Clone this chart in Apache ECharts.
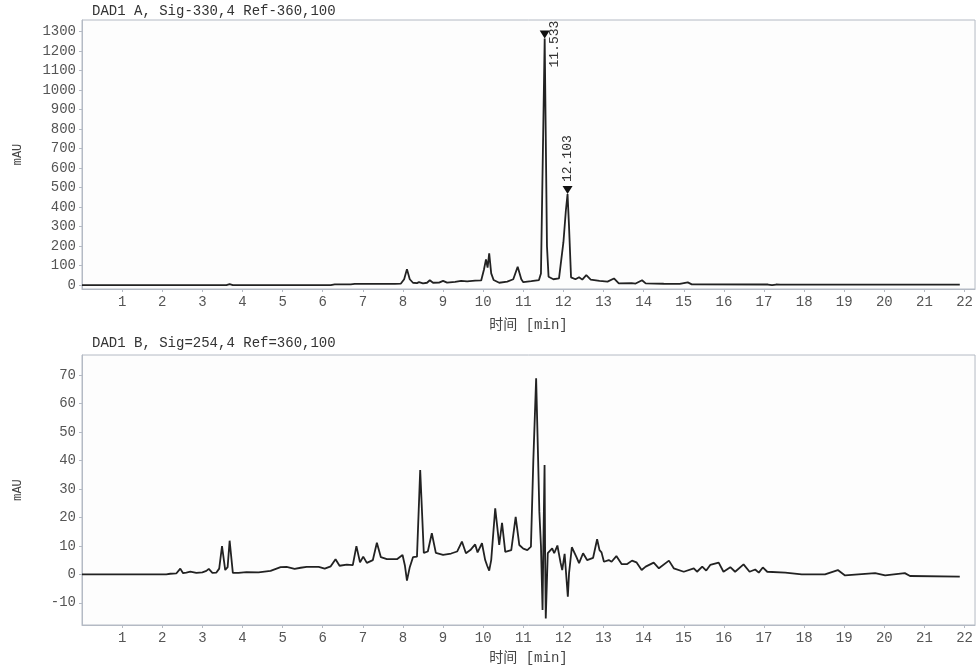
<!DOCTYPE html>
<html>
<head>
    <meta charset="utf-8">
    <title>DAD1 色谱图</title>
    <script type="text/javascript" src="https://cdn.jsdelivr.net/npm/echarts@6.0.0/dist/echarts.min.js"></script>
    <style>
        html, body { margin:0; padding:0; background:#fff; }
        #chart { width:976px; height:670px; }
    </style>
</head>
<body>
<div id="chart"></div>
<script type="text/javascript">
// 信号 A (330nm) 时间/响应
var timeA = [0, 3.6, 3.68, 3.76, 6.2, 6.3, 6.7, 6.8, 7.8, 7.95, 8.03, 8.1, 8.17, 8.25, 8.35, 8.4, 8.5, 8.6, 8.67, 8.75,
    8.9, 9.0, 9.1, 9.3, 9.45, 9.6, 9.8, 9.95, 10.02, 10.07, 10.11, 10.15, 10.2, 10.26, 10.4, 10.6, 10.75, 10.86, 10.95, 11.0,
    11.2, 11.39, 11.44, 11.533, 11.59, 11.63, 11.75, 11.89, 12.0, 12.06, 12.103, 12.14, 12.19, 12.3, 12.39, 12.47, 12.57, 12.68, 12.9, 13.1,
    13.26, 13.38, 13.7, 13.8, 13.96, 14.05, 14.5, 14.9, 15.1, 15.2, 17.1, 17.2, 17.3, 17.4, 21.88];
var sigA = [0, 0, 5, 0, 0, 4, 4, 6, 6, 8, 30, 82, 30, 12, 10, 15, 9, 12, 25, 12,
    13, 22, 13, 17, 22, 19, 23, 24, 80, 132, 90, 163, 60, 26, 12, 18, 30, 94, 30, 15,
    20, 26, 60, 1265, 200, 43, 30, 34, 220, 380, 467, 300, 40, 30, 40, 28, 51, 28, 22, 18,
    34, 9, 10, 8, 25, 9, 7, 6, 14, 4, 3, 0, 3, 2, 2];

// 信号 B (254nm)
var timeB = [0, 2.1, 2.2, 2.35, 2.45, 2.52, 2.6, 2.7, 2.85, 3.0, 3.1, 3.16, 3.25, 3.35, 3.42, 3.49, 3.57, 3.63, 3.68, 3.76,
    3.9, 4.1, 4.4, 4.7, 4.95, 5.1, 5.3, 5.45, 5.6, 5.9, 6.05, 6.2, 6.32, 6.42, 6.6, 6.75, 6.84, 6.93, 7.01, 7.1,
    7.25, 7.35, 7.45, 7.6, 7.85, 7.99, 8.05, 8.1, 8.17, 8.25, 8.35, 8.43, 8.52, 8.62, 8.72, 8.82, 9.0, 9.2, 9.35, 9.47,
    9.57, 9.68, 9.8, 9.86, 9.97, 10.05, 10.1, 10.15, 10.2, 10.3, 10.4, 10.47, 10.55, 10.7, 10.81, 10.9, 11.0, 11.1, 11.19, 11.25,
    11.32, 11.37, 11.4, 11.44, 11.48, 11.5, 11.53, 11.545, 11.56, 11.61, 11.72, 11.77, 11.85, 11.93, 11.97, 12.03, 12.11, 12.14, 12.21, 12.32,
    12.39, 12.49, 12.59, 12.74, 12.84, 12.9, 12.95, 13.01, 13.13, 13.2, 13.32, 13.45, 13.59, 13.71, 13.82, 13.95, 14.05, 14.25, 14.38, 14.63,
    14.75, 15.0, 15.25, 15.33, 15.46, 15.56, 15.66, 15.87, 15.99, 16.16, 16.28, 16.49, 16.64, 16.78, 16.87, 16.97, 17.08, 17.53, 17.94, 18.52,
    18.84, 19.02, 19.35, 19.77, 20.02, 20.51, 20.64, 21.88];
var sigB = [0, 0, 0.2, 0.3, 2.0, 0.4, 0.6, 0.9, 0.5, 0.7, 1.2, 1.9, 0.5, 0.6, 2.0, 9.9, 1.5, 2.5, 11.8, 0.5,
    0.5, 0.8, 0.7, 1.2, 2.5, 2.6, 1.9, 2.3, 2.6, 2.6, 2.0, 2.8, 5.3, 3.0, 3.4, 3.2, 9.9, 4.2, 6.2, 4.0,
    5.0, 11.1, 6.0, 5.3, 5.3, 6.8, 3.0, -2.2, 2.5, 6.0, 6.2, 36.6, 7.5, 8.0, 14.4, 7.5, 6.8, 7.3, 8.0, 11.5,
    7.4, 8.5, 10.5, 7.7, 10.9, 5.0, 3.0, 1.3, 5.0, 23.2, 10.3, 18.1, 7.9, 8.5, 20.2, 10.3, 9.0, 8.5, 9.7, 40,
    68.8, 40, 22, 10, -12.5, 10, 38.4, 5, -15.5, 7.4, 9.1, 7.4, 10.1, 4.0, 1.5, 7.2, -7.9, 0.3, 9.5, 6.2,
    3.9, 7.4, 5.0, 5.8, 12.3, 8.5, 7.7, 4.4, 5.0, 4.4, 6.4, 3.6, 3.6, 4.8, 4.2, 1.5, 2.7, 4.1, 2.1, 4.8,
    2.1, 0.9, 2.1, 0.9, 2.7, 1.3, 3.3, 4.1, 0.9, 2.5, 0.9, 3.5, 0.9, 1.7, 0.6, 2.4, 0.9, 0.6, 0, 0,
    1.5, -0.4, 0, 0.4, -0.4, 0.4, -0.6, -0.8];

// 积分峰 (信号 A)
var peakTimes = [11.533, 12.103];
var peakHeights = [1265, 467];

// 刻度
var xTicks = [1, 2, 3, 4, 5, 6, 7, 8, 9, 10, 11, 12, 13, 14, 15, 16, 17, 18, 19, 20, 21, 22];
var yTicksA = [0, 100, 200, 300, 400, 500, 600, 700, 800, 900, 1000, 1100, 1200, 1300];
var yTicksB = [-10, 0, 10, 20, 30, 40, 50, 60, 70];

var titles = ['DAD1 A, Sig-330,4 Ref-360,100', 'DAD1 B, Sig=254,4 Ref=360,100'];

var FONT = '"Liberation Mono", "Noto Sans CJK SC", monospace';
var AXIS_COLOR = '#b4bac4';

function pairs(ts, vs) {
    var out = [];
    for (var i = 0; i < ts.length; i++) out.push([ts[i], vs[i]]);
    return out;
}

function plain(v) { return String(v); }

function xAxisCfg(gridIndex, gap) {
    return {
        type: 'value', gridIndex: gridIndex, min: 0, max: 22.26,
        name: '时间 [min]', nameLocation: 'middle', nameGap: gap,
        nameTextStyle: { fontFamily: FONT, fontSize: 14, color: '#444' },
        axisLine: { onZero: false, lineStyle: { color: AXIS_COLOR } },
        axisTick: { show: true, length: 3, lineStyle: { color: AXIS_COLOR }, customValues: xTicks },
        axisLabel: { fontFamily: FONT, fontSize: 14, color: '#555', margin: 6, customValues: xTicks, formatter: plain },
        splitLine: { show: false }
    };
}

function yAxisCfg(gridIndex, min, max, ticks) {
    return {
        type: 'value', gridIndex: gridIndex, min: min, max: max,
        name: 'mAU', nameLocation: 'middle', nameGap: 58, nameRotate: 90,
        nameTextStyle: { fontFamily: FONT, fontSize: 12, color: '#444' },
        axisLine: { show: true, onZero: false, lineStyle: { color: AXIS_COLOR } },
        axisTick: { show: true, length: 3, lineStyle: { color: AXIS_COLOR }, customValues: ticks },
        axisLabel: { fontFamily: FONT, fontSize: 14, color: '#555', margin: 6, customValues: ticks, formatter: plain },
        splitLine: { show: false }
    };
}

var peakMarks = peakTimes.map(function (t, i) {
    var lbl = {
        show: true, formatter: t.toFixed(3), rotate: 90,
        fontFamily: FONT, fontSize: 13, color: '#333',
        position: 'top', align: 'left', verticalAlign: 'middle', distance: 4
    };
    // 第一个峰靠近顶部, 标签移到峰的右侧
    if (i === 0) lbl.offset = [-41, 10];
    return { coord: [t, peakHeights[i]], label: lbl };
});

var myChart = echarts.init(document.getElementById('chart'), null, { renderer: 'canvas' });
myChart.setOption({
    animation: false,
    backgroundColor: '#fff',
    title: [
        { text: titles[0], left: 87, top: -1, textStyle: { fontFamily: FONT, fontSize: 14, fontWeight: 'normal', color: '#333' } },
        { text: titles[1], left: 87, top: 331, textStyle: { fontFamily: FONT, fontSize: 14, fontWeight: 'normal', color: '#333' } }
    ],
    grid: [
        { left: 82, top: 20, width: 895, height: 269, show: true, borderColor: AXIS_COLOR, borderWidth: 1, backgroundColor: '#fdfdfd' },
        { left: 82, top: 355, width: 895, height: 270, show: true, borderColor: AXIS_COLOR, borderWidth: 1, backgroundColor: '#fdfdfd' }
    ],
    xAxis: [xAxisCfg(0, 29), xAxisCfg(1, 26)],
    yAxis: [yAxisCfg(0, -20, 1360, yTicksA), yAxisCfg(1, -17.8, 77, yTicksB)],
    series: [
        {
            type: 'line', xAxisIndex: 0, yAxisIndex: 0, data: pairs(timeA, sigA),
            showSymbol: false, lineStyle: { color: '#222', width: 1.8 },
            markPoint: {
                silent: true, symbol: 'triangle', symbolRotate: 180, symbolSize: [10, 8],
                symbolOffset: [0, '-50%'], itemStyle: { color: '#111' },
                data: peakMarks
            }
        },
        {
            type: 'line', xAxisIndex: 1, yAxisIndex: 1, data: pairs(timeB, sigB),
            showSymbol: false, lineStyle: { color: '#222', width: 1.8 }
        }
    ]
});
</script>
</body>
</html>
